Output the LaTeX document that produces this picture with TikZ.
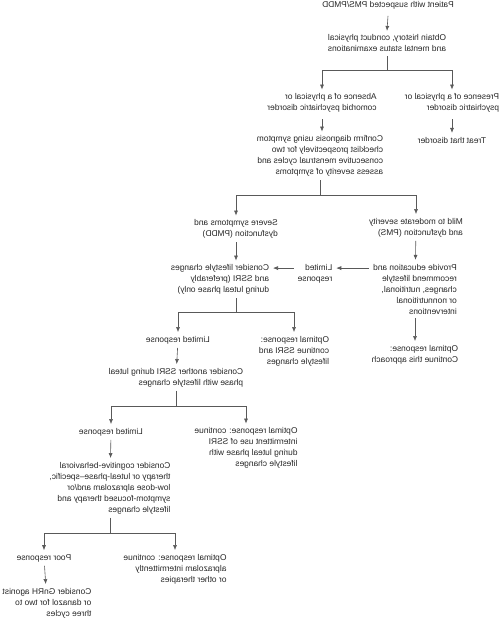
\documentclass[tikz,border=0pt]{standalone}
\usepackage{fontspec}
\setmainfont{Liberation Sans}
\usetikzlibrary{arrows.meta,calc}

\begin{document}
\begin{tikzpicture}[>={Latex[length=5pt,width=4pt]}, x=1pt, y=1pt, xscale=-1,
  box/.style={transform shape, align=left, inner sep=0pt, outer sep=4pt, text=black!85, font=\fontsize{8.4}{11}\selectfont},
  line/.style={draw=black!65, line width=.6pt}]
\useasboundingbox (0,0) rectangle (501,-620);
\node[box] (patient) at (113,-5) {Patient with suspected PMS/PMDD};
\node[box] (obtain) at (114,-43.5) {Obtain history, conduct physical\\and mental status examinations};
\node[box] (absence) at (179,-103) {Absence of a physical or\\comorbid psychiatric disorder};
\node[box] (presence) at (49,-103) {Presence of a physical or\\psychiatric disorder};
\node[box] (treat) at (49,-140) {Treat that disorder};
\node[box] (confirm) at (181,-156) {Confirm diagnosis using symptom\\checklist prospectively for two\\consecutive menstrual cycles and\\assess severity of symptoms};
\node[box] (mild) at (85,-227.5) {Mild to moderate severity\\and dysfunction (PMS)};
\node[box] (severe) at (265,-229) {Severe symptoms and\\dysfunction (PMDD)};
\node[box] (provide) at (86,-289) {Provide education and\\recommend lifestyle\\changes, nutritional,\\or nonnutritional\\interventions};
\node[box] (contapp) at (86,-354.5) {Optimal response:\\Continue this approach};
\node[box] (limited1) at (186,-274) {Limited\\response};
\node[box] (lifestyle) at (281,-279.5) {Consider lifestyle changes\\and SSRI (preferably\\during luteal phase only)};
\node[box] (optssri) at (207,-351) {Optimal response:\\continue SSRI and\\lifestyle changes};
\node[box] (limited2) at (323,-340) {Limited response};
\node[box] (another) at (325,-377.5) {Consider another SSRI during luteal\\phase with lifestyle changes};
\node[box] (optinter) at (255,-448) {Optimal response: continue\\intermittent use of SSRI\\during luteal phase with\\lifestyle changes};
\node[box] (limited3) at (390,-432) {Limited response};
\node[box] (cbt) at (391,-488) {Consider cognitive-behavioral\\therapy or luteal-phase--specific,\\low-dose alprazolam and/or\\symptom-focused therapy and\\lifestyle changes};
\node[box] (optalpr) at (326,-569) {Optimal response: continue\\alprazolam intermittently\\or other therapies};
\node[box] (poor) at (457,-558) {Poor response};
\node[box] (gnrh) at (454,-603) {Consider GnRH agonist\\or danazol for two to\\three cycles};

\draw[line,->] (patient.south) ++(0,-3) -- (obtain.north);
\draw[line,->] (obtain.south) -- ++(0,-14) -| (absence.north);
\draw[line,->] (obtain.south) -- ++(0,-14) -| (presence.north);
\draw[line,->] (presence.south) ++(0,-3) -- (treat.north);
\draw[line,->] (absence.south) ++(0,-3) -- (absence.south |- confirm.north);
\draw[line,->] (confirm.south) -- ++(0,-15) -| (severe.north);
\draw[line,->] (confirm.south) -- ++(0,-15) -| (mild.north);
\draw[line,->] (mild) -- (provide);
\draw[line,->] (provide) -- (contapp);
\draw[line,->] (severe) -- (severe |- lifestyle.north);
\coordinate (lim1) at ([yshift=-7.5pt]limited1.north);
\draw[line,->] (provide.east |- lim1) -- (limited1.west |- lim1);
\draw[line,->] (limited1.east |- lim1) -- (lifestyle.west |- lim1);
\draw[line,->] (severe |- lifestyle.south) -- ++(0,-14) -| (optssri.north);
\draw[line,->] (severe |- lifestyle.south) -- ++(0,-14) -| (limited2.north);
\draw[line,->] (limited2) -- (another);
\draw[line,->] (another.south) -- ++(0,-15) -| (optinter.north);
\draw[line,->] (another.south) -- ++(0,-15) -| (limited3.north);
\draw[line,->] (limited3) -- (cbt);
\draw[line,->] (cbt.south) -- ++(0,-15) -| (optalpr.north);
\draw[line,->] (cbt.south) -- ++(0,-15) -| (poor.north);
\draw[line,->] (poor) -- (gnrh);
\end{tikzpicture}
\end{document}
